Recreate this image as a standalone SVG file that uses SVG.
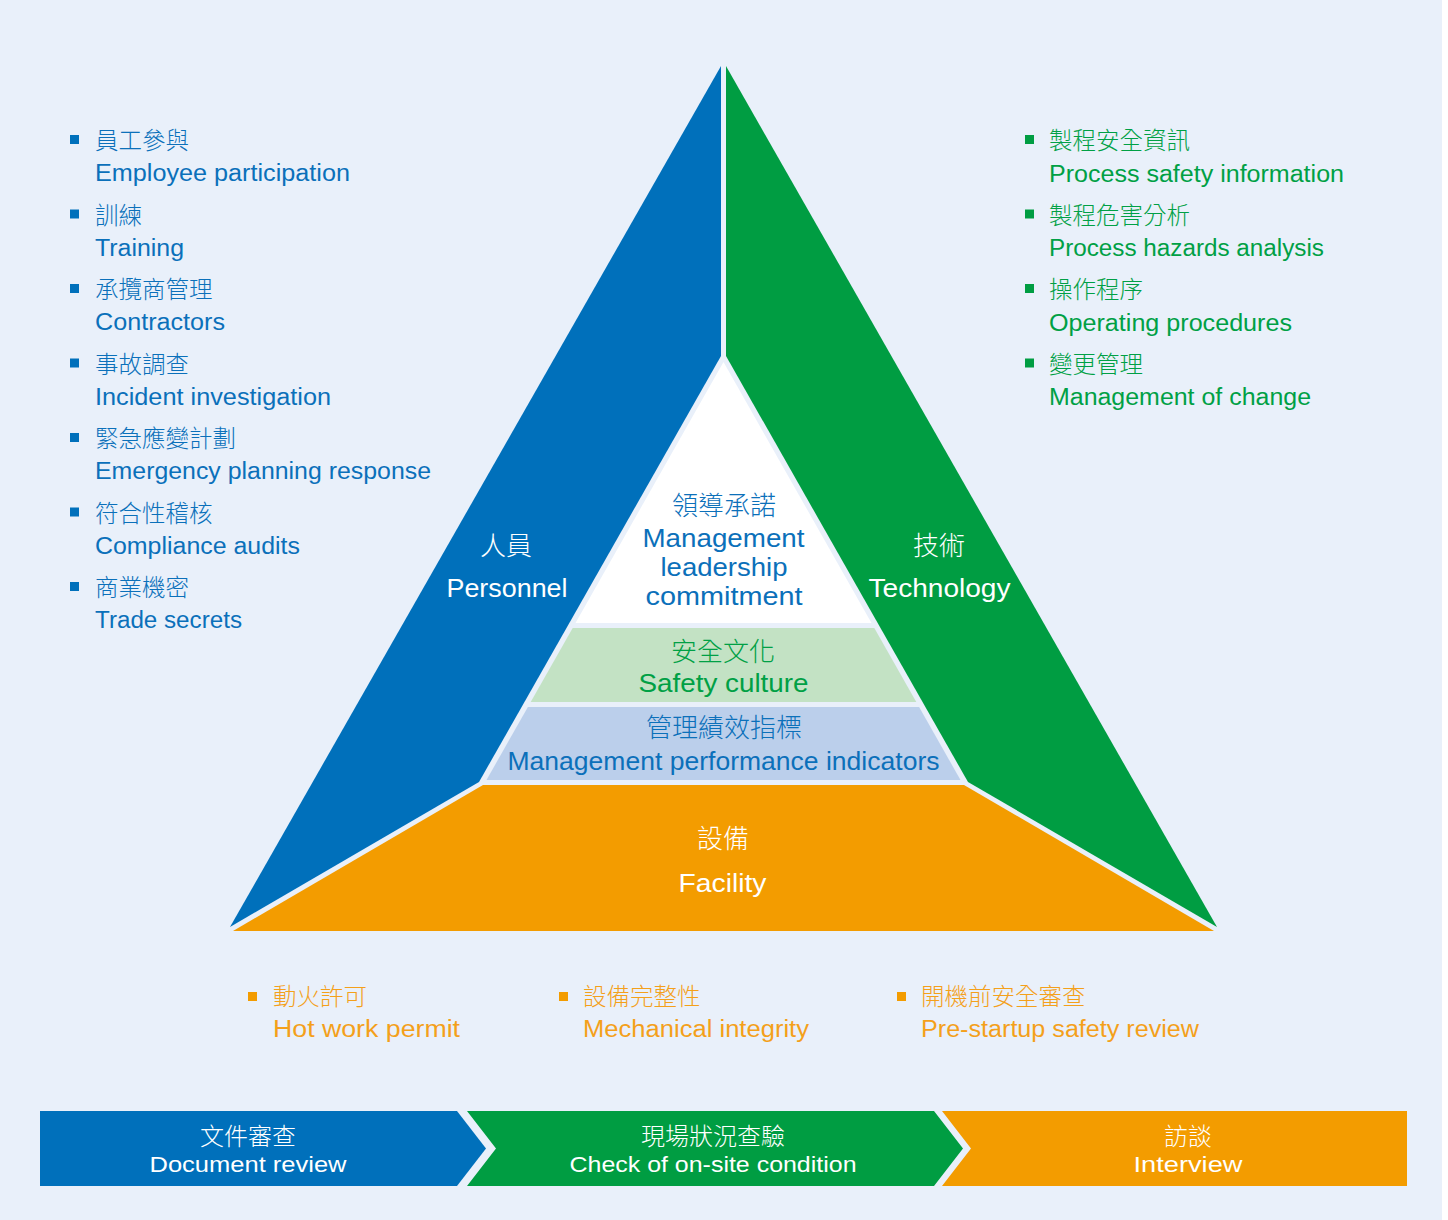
<svg xmlns="http://www.w3.org/2000/svg" width="1448" height="1220" viewBox="0 0 1448 1220">
<style>
.en{font-family:'Liberation Sans',Arial,sans-serif;}
.zh{font-family:'Noto Sans CJK TC','Noto Sans CJK SC',sans-serif;font-weight:300;}
.l{font-size:23px;}
.lz{font-size:23.5px;}
.c{font-size:25px;text-anchor:middle;}
.cz{font-size:26px;text-anchor:middle;}
.b{font-size:22px;text-anchor:middle;}
.bz{font-size:24px;text-anchor:middle;}
.blue{fill:#0B70BA;}
.green{fill:#00A045;}
.orange{fill:#F4A01A;}
.white{fill:#FFFFFF;}
</style>
<rect x="0" y="0" width="1442" height="1220" fill="#E9F0FA"/>

<g id="personnel">
<polygon points="721,66 721,356 479,782 230,927" fill="#0070BB"/>
<text class="zh cz white" x="506" y="555">人員</text>
<text class="en c white" x="507" y="597" textLength="121" lengthAdjust="spacingAndGlyphs">Personnel</text>
</g>
<g id="technology">
<polygon points="726,66 726,356 968,782 1217,927" fill="#009D42"/>
<text class="zh cz white" x="939" y="555">技術</text>
<text class="en c white" x="939.5" y="597" textLength="142" lengthAdjust="spacingAndGlyphs">Technology</text>
</g>
<g id="facility">
<polygon points="483,785 964,785 1214,931 233,931" fill="#F39C00"/>
<text class="zh cz white" x="723" y="848">設備</text>
<text class="en c white" x="722.5" y="892" textLength="88" lengthAdjust="spacingAndGlyphs">Facility</text>
</g>
<g id="leadership">
<polygon points="723.5,362 871.5,623 575.5,623" fill="#FFFFFF"/>
<text class="zh cz blue" x="724" y="515">領導承諾</text>
<text class="en c blue" x="723.5" y="547" textLength="162" lengthAdjust="spacingAndGlyphs">Management</text>
<text class="en c blue" x="724" y="576" textLength="127" lengthAdjust="spacingAndGlyphs">leadership</text>
<text class="en c blue" x="724" y="605" textLength="157" lengthAdjust="spacingAndGlyphs">commitment</text>
</g>
<g id="culture">
<polygon points="572.7,628 874.3,628 916.3,702 530.7,702" fill="#C3E2C4"/>
<text class="zh cz green" x="723" y="661">安全文化</text>
<text class="en c green" x="723.5" y="692" textLength="170" lengthAdjust="spacingAndGlyphs">Safety culture</text>
</g>
<g id="indicators">
<polygon points="527.9,707 919.1,707 960.5,780 486.5,780" fill="#BBCFEB"/>
<text class="zh cz blue" x="724" y="737">管理績效指標</text>
<text class="en c blue" x="723.5" y="770" textLength="432" lengthAdjust="spacingAndGlyphs">Management performance indicators</text>
</g>

<g id="left-list">
<rect x="70" y="135" width="9" height="9" fill="#0070BB"/>
<text class="zh lz blue" x="95" y="149">員工參與</text>
<text class="en l blue" x="95" y="181" textLength="255" lengthAdjust="spacingAndGlyphs">Employee participation</text>
<rect x="70" y="209.5" width="9" height="9" fill="#0070BB"/>
<text class="zh lz blue" x="95" y="223.5">訓練</text>
<text class="en l blue" x="95" y="255.5" textLength="89" lengthAdjust="spacingAndGlyphs">Training</text>
<rect x="70" y="284" width="9" height="9" fill="#0070BB"/>
<text class="zh lz blue" x="95" y="298">承攬商管理</text>
<text class="en l blue" x="95" y="330" textLength="130" lengthAdjust="spacingAndGlyphs">Contractors</text>
<rect x="70" y="358.5" width="9" height="9" fill="#0070BB"/>
<text class="zh lz blue" x="95" y="372.5">事故調查</text>
<text class="en l blue" x="95" y="404.5" textLength="236" lengthAdjust="spacingAndGlyphs">Incident investigation</text>
<rect x="70" y="433" width="9" height="9" fill="#0070BB"/>
<text class="zh lz blue" x="95" y="447">緊急應變計劃</text>
<text class="en l blue" x="95" y="479" textLength="336" lengthAdjust="spacingAndGlyphs">Emergency planning response</text>
<rect x="70" y="507.5" width="9" height="9" fill="#0070BB"/>
<text class="zh lz blue" x="95" y="521.5">符合性稽核</text>
<text class="en l blue" x="95" y="553.5" textLength="205" lengthAdjust="spacingAndGlyphs">Compliance audits</text>
<rect x="70" y="582" width="9" height="9" fill="#0070BB"/>
<text class="zh lz blue" x="95" y="596">商業機密</text>
<text class="en l blue" x="95" y="628" textLength="147" lengthAdjust="spacingAndGlyphs">Trade secrets</text>
</g>

<g id="right-list">
<rect x="1025" y="135" width="9" height="9" fill="#009D42"/>
<text class="zh lz green" x="1049" y="149">製程安全資訊</text>
<text class="en l green" x="1049" y="181.5" textLength="295" lengthAdjust="spacingAndGlyphs">Process safety information</text>
<rect x="1025" y="209.5" width="9" height="9" fill="#009D42"/>
<text class="zh lz green" x="1049" y="223.5">製程危害分析</text>
<text class="en l green" x="1049" y="256" textLength="275" lengthAdjust="spacingAndGlyphs">Process hazards analysis</text>
<rect x="1025" y="284" width="9" height="9" fill="#009D42"/>
<text class="zh lz green" x="1049" y="298">操作程序</text>
<text class="en l green" x="1049" y="330.5" textLength="243" lengthAdjust="spacingAndGlyphs">Operating procedures</text>
<rect x="1025" y="358.5" width="9" height="9" fill="#009D42"/>
<text class="zh lz green" x="1049" y="372.5">變更管理</text>
<text class="en l green" x="1049" y="405" textLength="262" lengthAdjust="spacingAndGlyphs">Management of change</text>
</g>

<g id="bottom-list">
<rect x="248" y="992" width="9" height="9" fill="#F39C00"/>
<text class="zh lz orange" x="273" y="1005">動火許可</text>
<text class="en l orange" x="273" y="1037" textLength="187" lengthAdjust="spacingAndGlyphs">Hot work permit</text>
<rect x="559" y="992" width="9" height="9" fill="#F39C00"/>
<text class="zh lz orange" x="583" y="1005">設備完整性</text>
<text class="en l orange" x="583" y="1037" textLength="226" lengthAdjust="spacingAndGlyphs">Mechanical integrity</text>
<rect x="897" y="992" width="9" height="9" fill="#F39C00"/>
<text class="zh lz orange" x="921" y="1005">開機前安全審查</text>
<text class="en l orange" x="921" y="1037" textLength="278" lengthAdjust="spacingAndGlyphs">Pre-startup safety review</text>
</g>

<g id="step-document">
<polygon points="40,1111 457,1111 486,1148.5 457,1186 40,1186" fill="#0070BB"/>
<text class="zh bz white" x="248" y="1145">文件審查</text>
<text class="en b white" x="248" y="1172" textLength="197" lengthAdjust="spacingAndGlyphs">Document review</text>
</g>
<g id="step-onsite">
<polygon points="467,1111 934,1111 963,1148.5 934,1186 467,1186 496,1148.5" fill="#009D42"/>
<text class="zh bz white" x="713" y="1145">現場狀況查驗</text>
<text class="en b white" x="713" y="1172" textLength="287" lengthAdjust="spacingAndGlyphs">Check of on-site condition</text>
</g>
<g id="step-interview">
<polygon points="942,1111 1407,1111 1407,1186 942,1186 971,1148.5" fill="#F39C00"/>
<text class="zh bz white" x="1188" y="1145">訪談</text>
<text class="en b white" x="1188" y="1172" textLength="109" lengthAdjust="spacingAndGlyphs">Interview</text>
</g>
<g id="connectors"></g>
</svg>
